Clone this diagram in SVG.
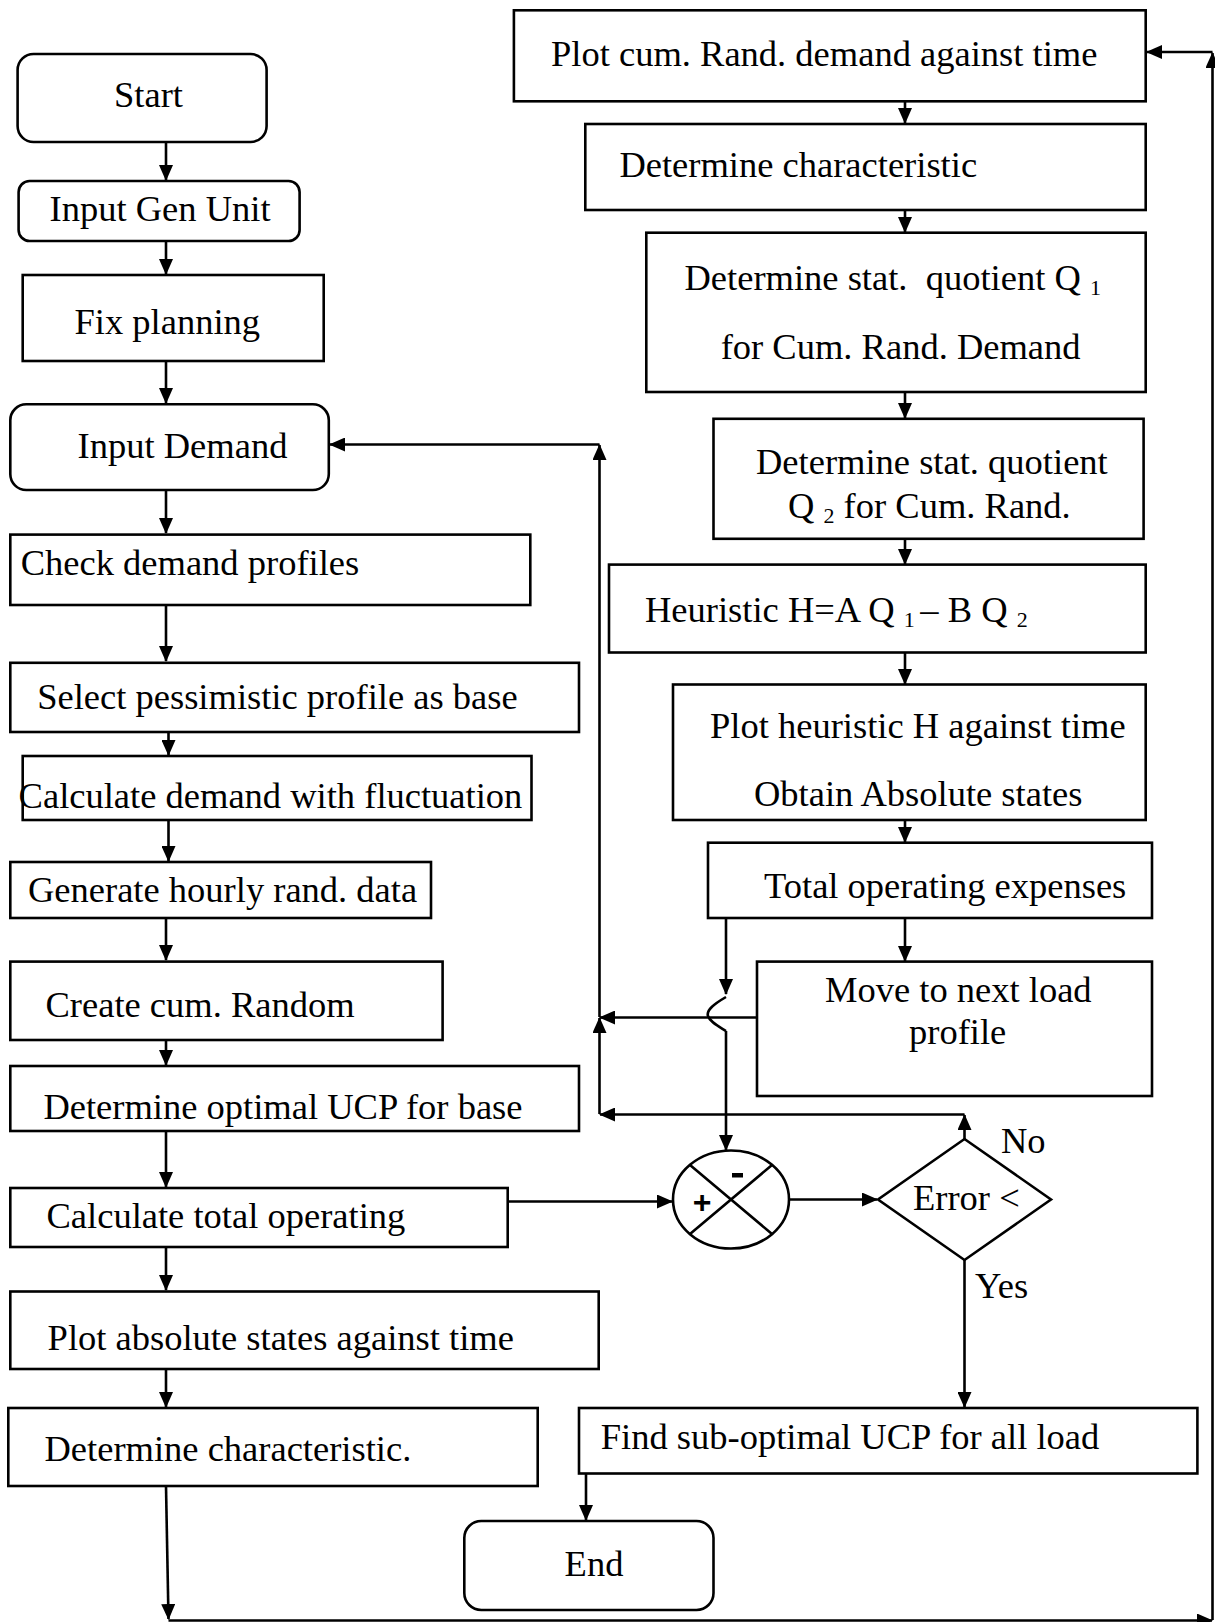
<svg xmlns="http://www.w3.org/2000/svg" width="1215" height="1622" viewBox="0 0 1215 1622">
<style>
.b{fill:#fff;stroke:#000;stroke-width:2.6}
.t{font-family:"Liberation Serif","Times New Roman",serif;font-size:36.5px;fill:#000}
.s{font-size:22px}
.c{fill:none;stroke:#000;stroke-width:2.6}
.a{marker-end:url(#ah)}
.sign{font-family:"Liberation Sans",Arial,sans-serif;fill:#000;text-anchor:middle}
</style>
<defs>
<marker id="ah" viewBox="0 0 16 14" refX="15" refY="7" markerWidth="16" markerHeight="14" markerUnits="userSpaceOnUse" orient="auto">
<path d="M0,0 L16,7 L0,14 z" fill="#000"/>
</marker>
</defs>
<rect width="1215" height="1622" fill="#fff"/>

<g id="connectors">
<path class="c a" d="M166 142 V180"/>
<path class="c a" d="M166 241 V274"/>
<path class="c a" d="M166 361 V403"/>
<path class="c a" d="M166 490 V533"/>
<path class="c a" d="M166 605 V661"/>
<path class="c a" d="M168.5 732 V755"/>
<path class="c a" d="M168.5 820 V861"/>
<path class="c a" d="M166 918 V960"/>
<path class="c a" d="M166 1040 V1065"/>
<path class="c a" d="M166 1131 V1187"/>
<path class="c a" d="M166 1247 V1290"/>
<path class="c a" d="M166 1369 V1407"/>
<path class="c a" d="M166 1486 L168.5 1619"/>
<path class="c a" d="M168.5 1620.5 H1212"/>
<path class="c a" d="M1212.5 1620 V53"/>
<path class="c a" d="M1212.5 52 H1147"/>

<path class="c a" d="M905 101 V123"/>
<path class="c a" d="M905 210 V232"/>
<path class="c a" d="M905 392 V418"/>
<path class="c a" d="M905 539 V564"/>
<path class="c a" d="M905 652 V684"/>
<path class="c a" d="M905 820 V842"/>
<path class="c a" d="M905 918 V961"/>

<path class="c a" d="M726 918 V994"/>
<path class="c" d="M726 997 C714 1004 706 1010 708 1016 C710 1022 718 1026 726 1031"/>
<path class="c a" d="M726 1031 V1150"/>

<path class="c a" d="M757 1017.5 H600"/>
<path class="c a" d="M599.5 1114 V1018"/>
<path class="c a" d="M599.5 1017 V445"/>
<path class="c a" d="M599.5 444.5 H330"/>

<path class="c a" d="M964.5 1139 V1115"/>
<path class="c a" d="M964.5 1114.5 H600"/>

<path class="c a" d="M507.7 1201.5 H672"/>
<path class="c a" d="M789 1199.5 H877"/>
<path class="c a" d="M964.5 1260 V1407"/>
<path class="c a" d="M586 1474 V1520"/>
</g>

<g id="n-start"><rect class="b" x="17.6" y="54" width="249" height="88" rx="16"/><text class="t" x="114" y="107">Start</text></g>
<g id="n-gen"><rect class="b" x="18.6" y="181" width="281" height="60" rx="11"/><text class="t" x="49.6" y="221">Input Gen Unit</text></g>
<g id="n-fix"><rect class="b" x="22.7" y="275" width="301" height="86"/><text class="t" x="74.5" y="334">Fix planning</text></g>
<g id="n-demand"><rect class="b" x="10.3" y="404.3" width="318.5" height="85.7" rx="16"/><text class="t" x="77.6" y="458">Input Demand</text></g>
<g id="n-check"><rect class="b" x="10.3" y="534.6" width="520" height="70.4"/><text class="t" x="20.7" y="575">Check demand profiles</text></g>
<g id="n-select"><rect class="b" x="10.3" y="662.8" width="568.7" height="69.2"/><text class="t" x="37.2" y="709">Select pessimistic profile as base</text></g>
<g id="n-calcdem"><rect class="b" x="22.7" y="756" width="508.8" height="64"/><text class="t" x="18.6" y="807.5">Calculate demand with fluctuation</text></g>
<g id="n-gen-hourly"><rect class="b" x="10.3" y="862" width="420.7" height="56"/><text class="t" x="28" y="901.5">Generate hourly rand. data</text></g>
<g id="n-create"><rect class="b" x="10.3" y="961.6" width="432.3" height="78.4"/><text class="t" x="45.5" y="1017">Create cum. Random</text></g>
<g id="n-optimal"><rect class="b" x="10.3" y="1066" width="568.7" height="65"/><text class="t" x="43.4" y="1118.5">Determine optimal UCP for base</text></g>
<g id="n-calctotal"><rect class="b" x="10.3" y="1188" width="497.4" height="59"/><text class="t" x="46.5" y="1228">Calculate total operating</text></g>
<g id="n-plotabs"><rect class="b" x="10.3" y="1291.5" width="588.4" height="77.5"/><text class="t" x="47.6" y="1349.5">Plot absolute states against time</text></g>
<g id="n-detchar2"><rect class="b" x="8.3" y="1408" width="529.4" height="78"/><text class="t" x="44.5" y="1461">Determine characteristic.</text></g>

<g id="n-plotcum"><rect class="b" x="513.9" y="10.3" width="631.8" height="91"/><text class="t" x="551" y="66">Plot cum. Rand. demand against time</text></g>
<g id="n-detchar"><rect class="b" x="585.3" y="124" width="560.4" height="86"/><text class="t" x="619.4" y="177">Determine characteristic</text></g>
<g id="n-q1"><rect class="b" x="646.3" y="232.7" width="499.4" height="159.3"/><text class="t" x="684.5" y="290" xml:space="preserve">Determine stat.  quotient Q <tspan class="s" dy="5">1</tspan></text><text class="t" x="720.7" y="358.5">for Cum. Rand. Demand</text></g>
<g id="n-q2"><rect class="b" x="713.5" y="418.8" width="430.1" height="120"/><text class="t" x="756" y="474">Determine stat. quotient</text><text class="t" x="788" y="517.5" xml:space="preserve">Q <tspan class="s" dy="5">2</tspan><tspan dy="-5"> for Cum. Rand.</tspan></text></g>
<g id="n-heur"><rect class="b" x="609" y="564.6" width="536.7" height="87.9"/><text class="t" x="645" y="621.5" xml:space="preserve">Heuristic H=A Q <tspan class="s" dy="5">1 </tspan><tspan dy="-5">– B Q </tspan><tspan class="s" dy="5">2</tspan></text></g>
<g id="n-plotheur"><rect class="b" x="673" y="684.5" width="472.7" height="135.5"/><text class="t" x="710" y="738">Plot heuristic H against time</text><text class="t" x="754" y="806">Obtain Absolute states</text></g>
<g id="n-totexp"><rect class="b" x="708" y="842.7" width="444" height="75.3"/><text class="t" x="764" y="898">Total operating expenses</text></g>
<g id="n-move"><rect class="b" x="757" y="961.6" width="395" height="134.4"/><text class="t" x="825" y="1001.5">Move to next load</text><text class="t" x="909" y="1043.5">profile</text></g>

<g id="n-sum">
<ellipse class="b" cx="731" cy="1199.5" rx="58" ry="49"/>
<path class="c" d="M690 1165 L772 1234 M772 1165 L690 1234"/>
<rect x="732" y="1173" width="11" height="4.5" fill="#000"/>
<text class="sign" x="702" y="1213" font-size="32" font-weight="bold">+</text>
</g>
<g id="n-error">
<path class="b" d="M964.5 1139 L1051 1199.5 L964.5 1260 L878 1199.5 Z"/>
<text class="t" x="913" y="1210">Error &lt;</text>
</g>
<text class="t" x="1001" y="1153">No</text>
<text class="t" x="975" y="1298">Yes</text>
<g id="n-find"><rect class="b" x="579" y="1408" width="618.4" height="65.5"/><text class="t" x="600.8" y="1449">Find sub-optimal UCP for all load</text></g>
<g id="n-end"><rect class="b" x="464.3" y="1521" width="249.2" height="89" rx="17"/><text class="t" x="564.6" y="1576">End</text></g>
</svg>
